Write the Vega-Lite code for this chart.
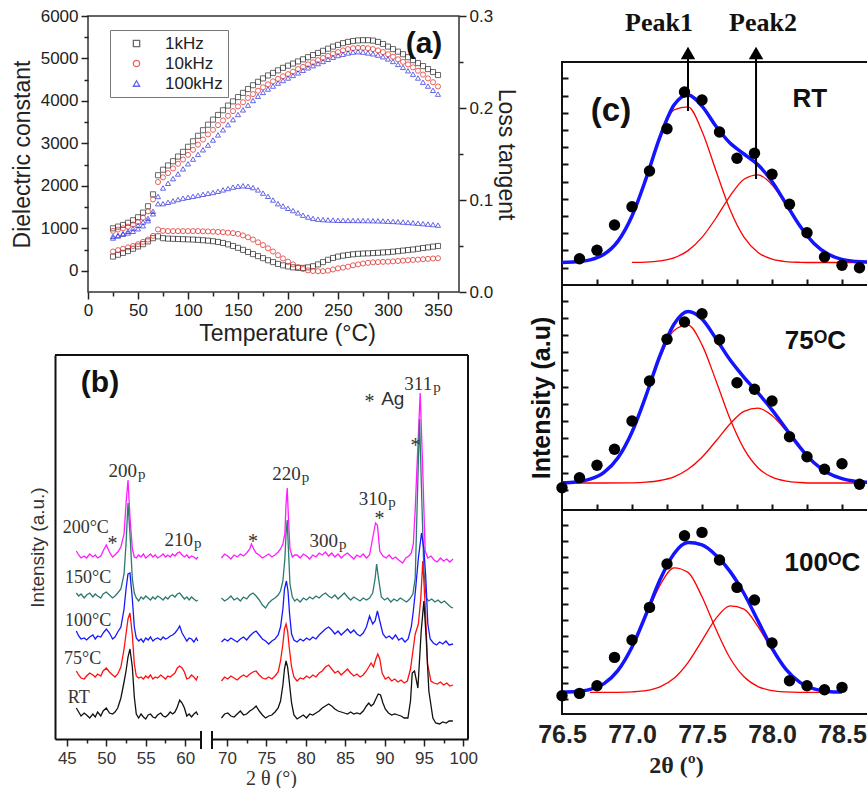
{
"padding": {"left": 10, "top": 6, "right": 0, "bottom": 0},
"autosize": {"type": "pad"},
"background": "white",
"config": {
  "font": "Liberation Sans",
  "view": {"stroke": "#222", "strokeWidth": 1.5},
  "axis": {"grid": false, "labelFont": "Liberation Sans", "titleFont": "Liberation Sans", "titleFontWeight": "normal", "domainColor": "#222", "tickColor": "#222", "labelColor": "#222", "titleColor": "#222", "labelOverlap": false, "labelFlush": false}
},
"datasets": {
"diel": [
{"T":25,"f":"1kHz","e":1000,"l":0.0385},{"T":30,"f":"1kHz","e":1040,"l":0.0405},{"T":35,"f":"1kHz","e":1080,"l":0.0425},{"T":40,"f":"1kHz","e":1130,"l":0.0445},{"T":45,"f":"1kHz","e":1190,"l":0.047},{"T":50,"f":"1kHz","e":1260,"l":0.0495},{"T":55,"f":"1kHz","e":1370,"l":0.052},{"T":60,"f":"1kHz","e":1520,"l":0.055},{"T":65,"f":"1kHz","e":1800,"l":0.0585},{"T":70,"f":"1kHz","e":2250,"l":0.0605},
{"T":75,"f":"1kHz","e":2380,"l":0.0585},{"T":80,"f":"1kHz","e":2480,"l":0.058},{"T":85,"f":"1kHz","e":2580,"l":0.0578},{"T":90,"f":"1kHz","e":2690,"l":0.0576},{"T":95,"f":"1kHz","e":2800,"l":0.0574},{"T":100,"f":"1kHz","e":2920,"l":0.0572},{"T":105,"f":"1kHz","e":3050,"l":0.057},{"T":110,"f":"1kHz","e":3180,"l":0.0567},{"T":115,"f":"1kHz","e":3310,"l":0.0563},{"T":120,"f":"1kHz","e":3440,"l":0.0558},
{"T":125,"f":"1kHz","e":3560,"l":0.0552},{"T":130,"f":"1kHz","e":3670,"l":0.0544},{"T":135,"f":"1kHz","e":3780,"l":0.0533},{"T":140,"f":"1kHz","e":3890,"l":0.0518},{"T":145,"f":"1kHz","e":3990,"l":0.05},{"T":150,"f":"1kHz","e":4090,"l":0.048},{"T":155,"f":"1kHz","e":4190,"l":0.0458},{"T":160,"f":"1kHz","e":4280,"l":0.0435},{"T":165,"f":"1kHz","e":4370,"l":0.0412},{"T":170,"f":"1kHz","e":4450,"l":0.039},
{"T":175,"f":"1kHz","e":4530,"l":0.0368},{"T":180,"f":"1kHz","e":4600,"l":0.0345},{"T":185,"f":"1kHz","e":4660,"l":0.0325},{"T":190,"f":"1kHz","e":4720,"l":0.0305},{"T":195,"f":"1kHz","e":4780,"l":0.029},{"T":200,"f":"1kHz","e":4830,"l":0.0278},{"T":205,"f":"1kHz","e":4880,"l":0.0268},{"T":210,"f":"1kHz","e":4930,"l":0.0262},{"T":215,"f":"1kHz","e":4980,"l":0.0262},{"T":220,"f":"1kHz","e":5030,"l":0.0268},
{"T":225,"f":"1kHz","e":5080,"l":0.028},{"T":230,"f":"1kHz","e":5130,"l":0.03},{"T":235,"f":"1kHz","e":5180,"l":0.0325},{"T":240,"f":"1kHz","e":5230,"l":0.035},{"T":245,"f":"1kHz","e":5280,"l":0.037},{"T":250,"f":"1kHz","e":5320,"l":0.0385},{"T":255,"f":"1kHz","e":5360,"l":0.0395},{"T":260,"f":"1kHz","e":5390,"l":0.0403},{"T":265,"f":"1kHz","e":5410,"l":0.041},{"T":270,"f":"1kHz","e":5425,"l":0.0415},
{"T":275,"f":"1kHz","e":5430,"l":0.0418},{"T":280,"f":"1kHz","e":5430,"l":0.042},{"T":285,"f":"1kHz","e":5420,"l":0.0423},{"T":290,"f":"1kHz","e":5390,"l":0.0426},{"T":295,"f":"1kHz","e":5340,"l":0.043},{"T":300,"f":"1kHz","e":5280,"l":0.0433},{"T":305,"f":"1kHz","e":5220,"l":0.0438},{"T":310,"f":"1kHz","e":5160,"l":0.0444},{"T":315,"f":"1kHz","e":5100,"l":0.045},{"T":320,"f":"1kHz","e":5030,"l":0.0456},
{"T":325,"f":"1kHz","e":4960,"l":0.0462},{"T":330,"f":"1kHz","e":4890,"l":0.047},{"T":335,"f":"1kHz","e":4820,"l":0.0478},{"T":340,"f":"1kHz","e":4750,"l":0.0485},{"T":345,"f":"1kHz","e":4680,"l":0.0493},{"T":350,"f":"1kHz","e":4610,"l":0.05},
{"T":25,"f":"10kHz","e":940,"l":0.044},{"T":30,"f":"10kHz","e":970,"l":0.0455},{"T":35,"f":"10kHz","e":1000,"l":0.047},{"T":40,"f":"10kHz","e":1040,"l":0.0485},{"T":45,"f":"10kHz","e":1090,"l":0.05},{"T":50,"f":"10kHz","e":1150,"l":0.052},{"T":55,"f":"10kHz","e":1250,"l":0.0545},{"T":60,"f":"10kHz","e":1400,"l":0.057},{"T":65,"f":"10kHz","e":1680,"l":0.061},{"T":70,"f":"10kHz","e":2090,"l":0.068},
{"T":75,"f":"10kHz","e":2200,"l":0.0665},{"T":80,"f":"10kHz","e":2300,"l":0.0662},{"T":85,"f":"10kHz","e":2410,"l":0.0662},{"T":90,"f":"10kHz","e":2520,"l":0.0662},{"T":95,"f":"10kHz","e":2620,"l":0.0662},{"T":100,"f":"10kHz","e":2730,"l":0.0662},{"T":105,"f":"10kHz","e":2850,"l":0.0662},{"T":110,"f":"10kHz","e":2970,"l":0.0662},{"T":115,"f":"10kHz","e":3090,"l":0.066},{"T":120,"f":"10kHz","e":3210,"l":0.0658},
{"T":125,"f":"10kHz","e":3320,"l":0.0656},{"T":130,"f":"10kHz","e":3430,"l":0.0653},{"T":135,"f":"10kHz","e":3540,"l":0.065},{"T":140,"f":"10kHz","e":3650,"l":0.0645},{"T":145,"f":"10kHz","e":3760,"l":0.064},{"T":150,"f":"10kHz","e":3870,"l":0.0632},{"T":155,"f":"10kHz","e":3970,"l":0.0615},{"T":160,"f":"10kHz","e":4070,"l":0.0595},{"T":165,"f":"10kHz","e":4160,"l":0.057},{"T":170,"f":"10kHz","e":4240,"l":0.054},
{"T":175,"f":"10kHz","e":4320,"l":0.051},{"T":180,"f":"10kHz","e":4390,"l":0.0475},{"T":185,"f":"10kHz","e":4460,"l":0.044},{"T":190,"f":"10kHz","e":4520,"l":0.04},{"T":195,"f":"10kHz","e":4580,"l":0.0365},{"T":200,"f":"10kHz","e":4630,"l":0.033},{"T":205,"f":"10kHz","e":4690,"l":0.03},{"T":210,"f":"10kHz","e":4750,"l":0.027},{"T":215,"f":"10kHz","e":4800,"l":0.025},{"T":220,"f":"10kHz","e":4860,"l":0.0235},
{"T":225,"f":"10kHz","e":4910,"l":0.0228},{"T":230,"f":"10kHz","e":4960,"l":0.0226},{"T":235,"f":"10kHz","e":5010,"l":0.0226},{"T":240,"f":"10kHz","e":5060,"l":0.0232},{"T":245,"f":"10kHz","e":5110,"l":0.0245},{"T":250,"f":"10kHz","e":5150,"l":0.0257},{"T":255,"f":"10kHz","e":5190,"l":0.0265},{"T":260,"f":"10kHz","e":5220,"l":0.0275},{"T":265,"f":"10kHz","e":5240,"l":0.029},{"T":270,"f":"10kHz","e":5250,"l":0.03},
{"T":275,"f":"10kHz","e":5250,"l":0.031},{"T":280,"f":"10kHz","e":5240,"l":0.0317},{"T":285,"f":"10kHz","e":5220,"l":0.0322},{"T":290,"f":"10kHz","e":5190,"l":0.0325},{"T":295,"f":"10kHz","e":5150,"l":0.0328},{"T":300,"f":"10kHz","e":5100,"l":0.033},{"T":305,"f":"10kHz","e":5040,"l":0.0333},{"T":310,"f":"10kHz","e":4980,"l":0.0337},{"T":315,"f":"10kHz","e":4920,"l":0.0341},{"T":320,"f":"10kHz","e":4860,"l":0.0345},
{"T":325,"f":"10kHz","e":4790,"l":0.0349},{"T":330,"f":"10kHz","e":4710,"l":0.0352},{"T":335,"f":"10kHz","e":4620,"l":0.0356},{"T":340,"f":"10kHz","e":4530,"l":0.036},{"T":345,"f":"10kHz","e":4440,"l":0.0364},{"T":350,"f":"10kHz","e":4340,"l":0.0367},
{"T":25,"f":"100kHz","e":810,"l":0.0587},{"T":30,"f":"100kHz","e":830,"l":0.061},{"T":35,"f":"100kHz","e":860,"l":0.0635},{"T":40,"f":"100kHz","e":890,"l":0.066},{"T":45,"f":"100kHz","e":930,"l":0.069},{"T":50,"f":"100kHz","e":990,"l":0.0725},{"T":55,"f":"100kHz","e":1060,"l":0.076},{"T":60,"f":"100kHz","e":1180,"l":0.08},{"T":65,"f":"100kHz","e":1400,"l":0.085},{"T":70,"f":"100kHz","e":1750,"l":0.096},
{"T":75,"f":"100kHz","e":1950,"l":0.096},{"T":80,"f":"100kHz","e":2060,"l":0.0975},{"T":85,"f":"100kHz","e":2170,"l":0.099},{"T":90,"f":"100kHz","e":2280,"l":0.1005},{"T":95,"f":"100kHz","e":2400,"l":0.102},{"T":100,"f":"100kHz","e":2520,"l":0.103},{"T":105,"f":"100kHz","e":2630,"l":0.104},{"T":110,"f":"100kHz","e":2740,"l":0.105},{"T":115,"f":"100kHz","e":2850,"l":0.1062},{"T":120,"f":"100kHz","e":2960,"l":0.1072},
{"T":125,"f":"100kHz","e":3080,"l":0.1082},{"T":130,"f":"100kHz","e":3200,"l":0.1095},{"T":135,"f":"100kHz","e":3320,"l":0.111},{"T":140,"f":"100kHz","e":3440,"l":0.1125},{"T":145,"f":"100kHz","e":3560,"l":0.114},{"T":150,"f":"100kHz","e":3680,"l":0.115},{"T":155,"f":"100kHz","e":3790,"l":0.1155},{"T":160,"f":"100kHz","e":3900,"l":0.115},{"T":165,"f":"100kHz","e":4010,"l":0.1135},{"T":170,"f":"100kHz","e":4110,"l":0.111},
{"T":175,"f":"100kHz","e":4200,"l":0.1075},{"T":180,"f":"100kHz","e":4280,"l":0.104},{"T":185,"f":"100kHz","e":4350,"l":0.1},{"T":190,"f":"100kHz","e":4420,"l":0.096},{"T":195,"f":"100kHz","e":4480,"l":0.0935},{"T":200,"f":"100kHz","e":4540,"l":0.091},{"T":205,"f":"100kHz","e":4600,"l":0.0885},{"T":210,"f":"100kHz","e":4660,"l":0.086},{"T":215,"f":"100kHz","e":4720,"l":0.0835},{"T":220,"f":"100kHz","e":4780,"l":0.0815},
{"T":225,"f":"100kHz","e":4830,"l":0.08},{"T":230,"f":"100kHz","e":4880,"l":0.0792},{"T":235,"f":"100kHz","e":4930,"l":0.0787},{"T":240,"f":"100kHz","e":4980,"l":0.0784},{"T":245,"f":"100kHz","e":5030,"l":0.0782},{"T":250,"f":"100kHz","e":5070,"l":0.078},{"T":255,"f":"100kHz","e":5100,"l":0.0779},{"T":260,"f":"100kHz","e":5130,"l":0.0778},{"T":265,"f":"100kHz","e":5150,"l":0.0778},{"T":270,"f":"100kHz","e":5160,"l":0.0777},
{"T":275,"f":"100kHz","e":5150,"l":0.0777},{"T":280,"f":"100kHz","e":5130,"l":0.0776},{"T":285,"f":"100kHz","e":5110,"l":0.0775},{"T":290,"f":"100kHz","e":5080,"l":0.0774},{"T":295,"f":"100kHz","e":5040,"l":0.0772},{"T":300,"f":"100kHz","e":4990,"l":0.077},{"T":305,"f":"100kHz","e":4930,"l":0.0767},{"T":310,"f":"100kHz","e":4860,"l":0.0764},{"T":315,"f":"100kHz","e":4790,"l":0.076},{"T":320,"f":"100kHz","e":4710,"l":0.0756},
{"T":325,"f":"100kHz","e":4630,"l":0.0752},{"T":330,"f":"100kHz","e":4540,"l":0.0748},{"T":335,"f":"100kHz","e":4440,"l":0.0743},{"T":340,"f":"100kHz","e":4350,"l":0.0738},{"T":345,"f":"100kHz","e":4250,"l":0.0733},{"T":350,"f":"100kHz","e":4160,"l":0.0727}
],
"xrdL": [
{"s":"RT","x":46.2,"y":31},{"s":"RT","x":46.5,"y":27},{"s":"RT","x":46.8,"y":23},{"s":"RT","x":47.2,"y":26},{"s":"RT","x":47.5,"y":24},{"s":"RT","x":47.9,"y":21},{"s":"RT","x":48.3,"y":25},{"s":"RT","x":48.6,"y":22},{"s":"RT","x":48.9,"y":27},{"s":"RT","x":49.3,"y":23},
{"s":"RT","x":49.6,"y":28},{"s":"RT","x":50.0,"y":31},{"s":"RT","x":50.4,"y":26},{"s":"RT","x":50.8,"y":25},{"s":"RT","x":51.1,"y":27},{"s":"RT","x":51.45,"y":31},{"s":"RT","x":51.85,"y":41},{"s":"RT","x":52.25,"y":57},{"s":"RT","x":52.5,"y":68},{"s":"RT","x":52.75,"y":82},
{"s":"RT","x":53.0,"y":90},{"s":"RT","x":53.3,"y":72},{"s":"RT","x":53.55,"y":42},{"s":"RT","x":53.8,"y":25},{"s":"RT","x":54.1,"y":21},{"s":"RT","x":54.4,"y":25},{"s":"RT","x":54.7,"y":22},{"s":"RT","x":55.0,"y":20},{"s":"RT","x":55.3,"y":24},{"s":"RT","x":55.6,"y":25},
{"s":"RT","x":55.9,"y":22},{"s":"RT","x":56.2,"y":21},{"s":"RT","x":56.5,"y":24},{"s":"RT","x":56.9,"y":26},{"s":"RT","x":57.2,"y":23},{"s":"RT","x":57.5,"y":22},{"s":"RT","x":57.8,"y":24},{"s":"RT","x":58.1,"y":27},{"s":"RT","x":58.4,"y":25},{"s":"RT","x":58.7,"y":27},
{"s":"RT","x":59.0,"y":32},{"s":"RT","x":59.3,"y":39},{"s":"RT","x":59.6,"y":36},{"s":"RT","x":59.9,"y":31},{"s":"RT","x":60.2,"y":23},{"s":"RT","x":60.5,"y":25},{"s":"RT","x":60.8,"y":22},{"s":"RT","x":61.1,"y":25},{"s":"RT","x":61.4,"y":27},{"s":"RT","x":61.6,"y":24},
{"s":"75","x":46.2,"y":68},{"s":"75","x":46.5,"y":64},{"s":"75","x":46.8,"y":61},{"s":"75","x":47.2,"y":60},{"s":"75","x":47.5,"y":63},{"s":"75","x":47.9,"y":66},{"s":"75","x":48.3,"y":64},{"s":"75","x":48.6,"y":62},{"s":"75","x":48.9,"y":65},{"s":"75","x":49.3,"y":63},
{"s":"75","x":49.6,"y":68},{"s":"75","x":50.0,"y":71},{"s":"75","x":50.4,"y":67},{"s":"75","x":50.8,"y":64},{"s":"75","x":51.1,"y":62},{"s":"75","x":51.45,"y":65},{"s":"75","x":51.85,"y":72},{"s":"75","x":52.25,"y":90},{"s":"75","x":52.5,"y":105},{"s":"75","x":52.75,"y":120},
{"s":"75","x":53.0,"y":126},{"s":"75","x":53.3,"y":104},{"s":"75","x":53.55,"y":75},{"s":"75","x":53.8,"y":63},{"s":"75","x":54.1,"y":61},{"s":"75","x":54.4,"y":62},{"s":"75","x":54.7,"y":60},{"s":"75","x":55.0,"y":63},{"s":"75","x":55.3,"y":61},{"s":"75","x":55.6,"y":64},
{"s":"75","x":55.9,"y":60},{"s":"75","x":56.2,"y":62},{"s":"75","x":56.5,"y":61},{"s":"75","x":56.9,"y":64},{"s":"75","x":57.2,"y":62},{"s":"75","x":57.5,"y":60},{"s":"75","x":57.8,"y":63},{"s":"75","x":58.1,"y":62},{"s":"75","x":58.4,"y":64},{"s":"75","x":58.7,"y":66},
{"s":"75","x":59.0,"y":71},{"s":"75","x":59.3,"y":73},{"s":"75","x":59.6,"y":71},{"s":"75","x":59.9,"y":67},{"s":"75","x":60.2,"y":60},{"s":"75","x":60.5,"y":61},{"s":"75","x":60.8,"y":64},{"s":"75","x":61.1,"y":62},{"s":"75","x":61.4,"y":59},{"s":"75","x":61.6,"y":63},
{"s":"100","x":46.2,"y":108},{"s":"100","x":46.5,"y":103},{"s":"100","x":46.8,"y":100},{"s":"100","x":47.2,"y":101},{"s":"100","x":47.5,"y":99},{"s":"100","x":47.9,"y":102},{"s":"100","x":48.3,"y":104},{"s":"100","x":48.6,"y":100},{"s":"100","x":48.9,"y":103},{"s":"100","x":49.3,"y":102},
{"s":"100","x":49.6,"y":106},{"s":"100","x":50.0,"y":110},{"s":"100","x":50.4,"y":106},{"s":"100","x":50.8,"y":100},{"s":"100","x":51.1,"y":102},{"s":"100","x":51.45,"y":107},{"s":"100","x":51.85,"y":112},{"s":"100","x":52.25,"y":130},{"s":"100","x":52.5,"y":150},{"s":"100","x":52.75,"y":165},
{"s":"100","x":53.0,"y":166},{"s":"100","x":53.3,"y":140},{"s":"100","x":53.55,"y":112},{"s":"100","x":53.8,"y":101},{"s":"100","x":54.1,"y":98},{"s":"100","x":54.4,"y":100},{"s":"100","x":54.7,"y":97},{"s":"100","x":55.0,"y":101},{"s":"100","x":55.3,"y":99},{"s":"100","x":55.6,"y":102},
{"s":"100","x":55.9,"y":98},{"s":"100","x":56.2,"y":100},{"s":"100","x":56.5,"y":101},{"s":"100","x":56.9,"y":99},{"s":"100","x":57.2,"y":102},{"s":"100","x":57.5,"y":100},{"s":"100","x":57.8,"y":101},{"s":"100","x":58.1,"y":103},{"s":"100","x":58.4,"y":104},{"s":"100","x":58.7,"y":106},
{"s":"100","x":59.0,"y":109},{"s":"100","x":59.3,"y":113},{"s":"100","x":59.6,"y":106},{"s":"100","x":59.9,"y":102},{"s":"100","x":60.2,"y":98},{"s":"100","x":60.5,"y":101},{"s":"100","x":60.8,"y":100},{"s":"100","x":61.1,"y":97},{"s":"100","x":61.4,"y":101},{"s":"100","x":61.6,"y":98},
{"s":"150","x":46.2,"y":146},{"s":"150","x":46.5,"y":143},{"s":"150","x":46.8,"y":145},{"s":"150","x":47.2,"y":141},{"s":"150","x":47.5,"y":144},{"s":"150","x":47.9,"y":146},{"s":"150","x":48.3,"y":142},{"s":"150","x":48.6,"y":145},{"s":"150","x":48.9,"y":143},{"s":"150","x":49.3,"y":141},
{"s":"150","x":49.6,"y":145},{"s":"150","x":50.0,"y":147},{"s":"150","x":50.4,"y":144},{"s":"150","x":50.8,"y":141},{"s":"150","x":51.1,"y":143},{"s":"150","x":51.45,"y":146},{"s":"150","x":51.85,"y":150},{"s":"150","x":52.25,"y":165},{"s":"150","x":52.5,"y":195},{"s":"150","x":52.75,"y":236},
{"s":"150","x":53.0,"y":205},{"s":"150","x":53.3,"y":160},{"s":"150","x":53.55,"y":146},{"s":"150","x":53.8,"y":141},{"s":"150","x":54.1,"y":138},{"s":"150","x":54.4,"y":142},{"s":"150","x":54.7,"y":140},{"s":"150","x":55.0,"y":143},{"s":"150","x":55.3,"y":141},{"s":"150","x":55.6,"y":139},
{"s":"150","x":55.9,"y":142},{"s":"150","x":56.2,"y":140},{"s":"150","x":56.5,"y":143},{"s":"150","x":56.9,"y":141},{"s":"150","x":57.2,"y":139},{"s":"150","x":57.5,"y":142},{"s":"150","x":57.8,"y":140},{"s":"150","x":58.1,"y":143},{"s":"150","x":58.4,"y":144},{"s":"150","x":58.7,"y":142},
{"s":"150","x":59.0,"y":145},{"s":"150","x":59.3,"y":146},{"s":"150","x":59.6,"y":143},{"s":"150","x":59.9,"y":140},{"s":"150","x":60.2,"y":142},{"s":"150","x":60.5,"y":139},{"s":"150","x":60.8,"y":142},{"s":"150","x":61.1,"y":140},{"s":"150","x":61.4,"y":138},{"s":"150","x":61.6,"y":139},
{"s":"200","x":46.2,"y":188},{"s":"200","x":46.5,"y":184},{"s":"200","x":46.8,"y":181},{"s":"200","x":47.2,"y":183},{"s":"200","x":47.5,"y":181},{"s":"200","x":47.9,"y":185},{"s":"200","x":48.3,"y":182},{"s":"200","x":48.6,"y":184},{"s":"200","x":48.9,"y":181},{"s":"200","x":49.3,"y":183},
{"s":"200","x":49.6,"y":188},{"s":"200","x":50.0,"y":194},{"s":"200","x":50.4,"y":187},{"s":"200","x":50.8,"y":182},{"s":"200","x":51.1,"y":184},{"s":"200","x":51.45,"y":187},{"s":"200","x":51.85,"y":192},{"s":"200","x":52.25,"y":205},{"s":"200","x":52.5,"y":235},{"s":"200","x":52.75,"y":259},
{"s":"200","x":53.0,"y":222},{"s":"200","x":53.3,"y":190},{"s":"200","x":53.55,"y":182},{"s":"200","x":53.8,"y":181},{"s":"200","x":54.1,"y":184},{"s":"200","x":54.4,"y":182},{"s":"200","x":54.7,"y":185},{"s":"200","x":55.0,"y":181},{"s":"200","x":55.3,"y":183},{"s":"200","x":55.6,"y":185},
{"s":"200","x":55.9,"y":182},{"s":"200","x":56.2,"y":184},{"s":"200","x":56.5,"y":181},{"s":"200","x":56.9,"y":183},{"s":"200","x":57.2,"y":185},{"s":"200","x":57.5,"y":182},{"s":"200","x":57.8,"y":184},{"s":"200","x":58.1,"y":182},{"s":"200","x":58.4,"y":185},{"s":"200","x":58.7,"y":183},
{"s":"200","x":59.0,"y":186},{"s":"200","x":59.3,"y":187},{"s":"200","x":59.6,"y":184},{"s":"200","x":59.9,"y":182},{"s":"200","x":60.2,"y":184},{"s":"200","x":60.5,"y":181},{"s":"200","x":60.8,"y":183},{"s":"200","x":61.1,"y":182},{"s":"200","x":61.4,"y":180},{"s":"200","x":61.6,"y":182}
],
"xrdR": [
{"s":"RT","x":69.3,"y":21},{"s":"RT","x":69.7,"y":25},{"s":"RT","x":70.1,"y":26},{"s":"RT","x":70.5,"y":23},{"s":"RT","x":70.9,"y":22},{"s":"RT","x":71.3,"y":25},{"s":"RT","x":71.7,"y":28},{"s":"RT","x":72.1,"y":24},{"s":"RT","x":72.5,"y":25},{"s":"RT","x":72.9,"y":28},
{"s":"RT","x":73.3,"y":30},{"s":"RT","x":73.7,"y":33},{"s":"RT","x":74.1,"y":28},{"s":"RT","x":74.5,"y":24},{"s":"RT","x":74.9,"y":21},{"s":"RT","x":75.3,"y":23},{"s":"RT","x":75.7,"y":24},{"s":"RT","x":76.1,"y":27},{"s":"RT","x":76.5,"y":31},{"s":"RT","x":76.8,"y":38},
{"s":"RT","x":77.1,"y":54},{"s":"RT","x":77.3,"y":70},{"s":"RT","x":77.5,"y":78},{"s":"RT","x":77.7,"y":72},{"s":"RT","x":77.9,"y":58},{"s":"RT","x":78.2,"y":36},{"s":"RT","x":78.5,"y":24},{"s":"RT","x":78.9,"y":20},{"s":"RT","x":79.3,"y":22},{"s":"RT","x":79.7,"y":24},
{"s":"RT","x":80.1,"y":21},{"s":"RT","x":80.5,"y":25},{"s":"RT","x":80.9,"y":24},{"s":"RT","x":81.3,"y":26},{"s":"RT","x":81.7,"y":28},{"s":"RT","x":82.1,"y":31},{"s":"RT","x":82.5,"y":33},{"s":"RT","x":82.9,"y":35},{"s":"RT","x":83.3,"y":33},{"s":"RT","x":83.7,"y":30},
{"s":"RT","x":84.1,"y":28},{"s":"RT","x":84.5,"y":27},{"s":"RT","x":84.9,"y":26},{"s":"RT","x":85.3,"y":25},{"s":"RT","x":85.7,"y":27},{"s":"RT","x":86.1,"y":25},{"s":"RT","x":86.5,"y":26},{"s":"RT","x":86.9,"y":25},{"s":"RT","x":87.3,"y":28},{"s":"RT","x":87.7,"y":33},
{"s":"RT","x":88.0,"y":36},{"s":"RT","x":88.3,"y":33},{"s":"RT","x":88.6,"y":35},{"s":"RT","x":88.9,"y":40},{"s":"RT","x":89.2,"y":45},{"s":"RT","x":89.5,"y":44},{"s":"RT","x":89.8,"y":36},{"s":"RT","x":90.1,"y":30},{"s":"RT","x":90.5,"y":26},{"s":"RT","x":90.9,"y":24},
{"s":"RT","x":91.3,"y":25},{"s":"RT","x":91.7,"y":24},{"s":"RT","x":92.1,"y":23},{"s":"RT","x":92.5,"y":21},{"s":"RT","x":92.97,"y":21},{"s":"RT","x":93.3,"y":38},{"s":"RT","x":93.52,"y":66},{"s":"RT","x":93.81,"y":68},{"s":"RT","x":94.24,"y":51},{"s":"RT","x":94.66,"y":108},
{"s":"RT","x":95.0,"y":138},{"s":"RT","x":95.29,"y":101},{"s":"RT","x":95.63,"y":48},{"s":"RT","x":96.14,"y":21},{"s":"RT","x":96.5,"y":16},{"s":"RT","x":96.98,"y":15},{"s":"RT","x":97.4,"y":17},{"s":"RT","x":97.83,"y":16},{"s":"RT","x":98.2,"y":18},{"s":"RT","x":98.68,"y":18},
{"s":"75","x":69.3,"y":58},{"s":"75","x":69.7,"y":62},{"s":"75","x":70.1,"y":60},{"s":"75","x":70.5,"y":63},{"s":"75","x":70.9,"y":61},{"s":"75","x":71.3,"y":59},{"s":"75","x":71.7,"y":62},{"s":"75","x":72.1,"y":64},{"s":"75","x":72.5,"y":62},{"s":"75","x":72.9,"y":65},
{"s":"75","x":73.3,"y":67},{"s":"75","x":73.7,"y":68},{"s":"75","x":74.1,"y":64},{"s":"75","x":74.5,"y":61},{"s":"75","x":74.9,"y":60},{"s":"75","x":75.3,"y":62},{"s":"75","x":75.7,"y":60},{"s":"75","x":76.1,"y":63},{"s":"75","x":76.5,"y":67},{"s":"75","x":76.8,"y":78},
{"s":"75","x":77.1,"y":95},{"s":"75","x":77.3,"y":110},{"s":"75","x":77.5,"y":115},{"s":"75","x":77.7,"y":108},{"s":"75","x":77.9,"y":92},{"s":"75","x":78.2,"y":72},{"s":"75","x":78.5,"y":62},{"s":"75","x":78.9,"y":58},{"s":"75","x":79.3,"y":61},{"s":"75","x":79.7,"y":60},
{"s":"75","x":80.1,"y":63},{"s":"75","x":80.5,"y":61},{"s":"75","x":80.9,"y":64},{"s":"75","x":81.3,"y":62},{"s":"75","x":81.7,"y":66},{"s":"75","x":82.1,"y":68},{"s":"75","x":82.5,"y":72},{"s":"75","x":82.9,"y":74},{"s":"75","x":83.3,"y":70},{"s":"75","x":83.7,"y":66},
{"s":"75","x":84.1,"y":68},{"s":"75","x":84.5,"y":64},{"s":"75","x":84.9,"y":67},{"s":"75","x":85.3,"y":70},{"s":"75","x":85.7,"y":66},{"s":"75","x":86.1,"y":63},{"s":"75","x":86.5,"y":65},{"s":"75","x":86.9,"y":62},{"s":"75","x":87.3,"y":64},{"s":"75","x":87.7,"y":68},
{"s":"75","x":88.0,"y":72},{"s":"75","x":88.3,"y":76},{"s":"75","x":88.6,"y":72},{"s":"75","x":88.9,"y":80},{"s":"75","x":89.15,"y":85},{"s":"75","x":89.4,"y":80},{"s":"75","x":89.7,"y":66},{"s":"75","x":90.1,"y":60},{"s":"75","x":90.5,"y":62},{"s":"75","x":90.9,"y":58},
{"s":"75","x":91.3,"y":60},{"s":"75","x":91.7,"y":57},{"s":"75","x":92.1,"y":59},{"s":"75","x":92.5,"y":56},{"s":"75","x":92.9,"y":58},{"s":"75","x":93.3,"y":70},{"s":"75","x":93.66,"y":91},{"s":"75","x":93.9,"y":105},{"s":"75","x":94.3,"y":115},{"s":"75","x":94.6,"y":140},
{"s":"75","x":94.86,"y":178},{"s":"75","x":95.2,"y":128},{"s":"75","x":95.46,"y":75},{"s":"75","x":95.89,"y":58},{"s":"75","x":96.3,"y":56},{"s":"75","x":96.7,"y":55},{"s":"75","x":97.1,"y":57},{"s":"75","x":97.5,"y":54},{"s":"75","x":97.9,"y":56},{"s":"75","x":98.3,"y":53},{"s":"75","x":98.7,"y":54},
{"s":"100","x":69.3,"y":97},{"s":"100","x":69.7,"y":100},{"s":"100","x":70.1,"y":98},{"s":"100","x":70.5,"y":101},{"s":"100","x":70.9,"y":99},{"s":"100","x":71.3,"y":97},{"s":"100","x":71.7,"y":100},{"s":"100","x":72.1,"y":102},{"s":"100","x":72.5,"y":99},{"s":"100","x":72.9,"y":103},
{"s":"100","x":73.3,"y":106},{"s":"100","x":73.7,"y":108},{"s":"100","x":74.1,"y":104},{"s":"100","x":74.5,"y":100},{"s":"100","x":74.9,"y":98},{"s":"100","x":75.3,"y":95},{"s":"100","x":75.7,"y":98},{"s":"100","x":76.1,"y":100},{"s":"100","x":76.5,"y":104},{"s":"100","x":76.8,"y":112},
{"s":"100","x":77.1,"y":130},{"s":"100","x":77.3,"y":150},{"s":"100","x":77.55,"y":158},{"s":"100","x":77.75,"y":148},{"s":"100","x":77.95,"y":125},{"s":"100","x":78.2,"y":105},{"s":"100","x":78.5,"y":99},{"s":"100","x":78.9,"y":97},{"s":"100","x":79.3,"y":100},{"s":"100","x":79.7,"y":98},
{"s":"100","x":80.1,"y":101},{"s":"100","x":80.5,"y":99},{"s":"100","x":80.9,"y":102},{"s":"100","x":81.3,"y":100},{"s":"100","x":81.7,"y":104},{"s":"100","x":82.1,"y":107},{"s":"100","x":82.5,"y":110},{"s":"100","x":82.9,"y":112},{"s":"100","x":83.3,"y":109},{"s":"100","x":83.7,"y":105},
{"s":"100","x":84.1,"y":108},{"s":"100","x":84.5,"y":104},{"s":"100","x":84.9,"y":107},{"s":"100","x":85.3,"y":110},{"s":"100","x":85.7,"y":106},{"s":"100","x":86.1,"y":109},{"s":"100","x":86.5,"y":105},{"s":"100","x":86.9,"y":103},{"s":"100","x":87.3,"y":106},{"s":"100","x":87.7,"y":112},
{"s":"100","x":88.1,"y":123},{"s":"100","x":88.5,"y":115},{"s":"100","x":88.8,"y":118},{"s":"100","x":89.1,"y":128},{"s":"100","x":89.4,"y":118},{"s":"100","x":89.8,"y":105},{"s":"100","x":90.2,"y":101},{"s":"100","x":90.6,"y":103},{"s":"100","x":91.0,"y":100},{"s":"100","x":91.4,"y":104},
{"s":"100","x":91.8,"y":99},{"s":"100","x":92.2,"y":101},{"s":"100","x":92.6,"y":97},{"s":"100","x":93.0,"y":100},{"s":"100","x":93.4,"y":112},{"s":"100","x":93.66,"y":128},{"s":"100","x":93.95,"y":150},{"s":"100","x":94.3,"y":181},{"s":"100","x":94.7,"y":206},{"s":"100","x":95.0,"y":190},
{"s":"100","x":95.25,"y":160},{"s":"100","x":95.5,"y":115},{"s":"100","x":95.8,"y":100},{"s":"100","x":96.2,"y":96},{"s":"100","x":96.6,"y":94},{"s":"100","x":97.0,"y":97},{"s":"100","x":97.4,"y":95},{"s":"100","x":97.8,"y":98},{"s":"100","x":98.2,"y":94},{"s":"100","x":98.7,"y":95},
{"s":"150","x":69.3,"y":141},{"s":"150","x":69.7,"y":138},{"s":"150","x":70.1,"y":140},{"s":"150","x":70.5,"y":143},{"s":"150","x":70.9,"y":139},{"s":"150","x":71.3,"y":141},{"s":"150","x":71.7,"y":138},{"s":"150","x":72.1,"y":142},{"s":"150","x":72.5,"y":140},{"s":"150","x":72.9,"y":144},
{"s":"150","x":73.3,"y":146},{"s":"150","x":73.7,"y":143},{"s":"150","x":74.1,"y":139},{"s":"150","x":74.5,"y":134},{"s":"150","x":74.9,"y":131},{"s":"150","x":75.3,"y":136},{"s":"150","x":75.7,"y":139},{"s":"150","x":76.1,"y":141},{"s":"150","x":76.5,"y":144},{"s":"150","x":76.8,"y":148},
{"s":"150","x":77.1,"y":158},{"s":"150","x":77.35,"y":180},{"s":"150","x":77.5,"y":205},{"s":"150","x":77.65,"y":219},{"s":"150","x":77.8,"y":190},{"s":"150","x":78.0,"y":155},{"s":"150","x":78.3,"y":142},{"s":"150","x":78.6,"y":138},{"s":"150","x":78.9,"y":140},{"s":"150","x":79.3,"y":137},
{"s":"150","x":79.7,"y":141},{"s":"150","x":80.1,"y":139},{"s":"150","x":80.5,"y":142},{"s":"150","x":80.9,"y":140},{"s":"150","x":81.3,"y":143},{"s":"150","x":81.7,"y":141},{"s":"150","x":82.1,"y":144},{"s":"150","x":82.5,"y":146},{"s":"150","x":82.9,"y":143},{"s":"150","x":83.3,"y":141},
{"s":"150","x":83.7,"y":144},{"s":"150","x":84.1,"y":140},{"s":"150","x":84.5,"y":143},{"s":"150","x":84.9,"y":146},{"s":"150","x":85.3,"y":142},{"s":"150","x":85.7,"y":139},{"s":"150","x":86.1,"y":142},{"s":"150","x":86.5,"y":140},{"s":"150","x":86.9,"y":138},{"s":"150","x":87.3,"y":141},
{"s":"150","x":87.7,"y":139},{"s":"150","x":88.1,"y":141},{"s":"150","x":88.5,"y":146},{"s":"150","x":88.8,"y":160},{"s":"150","x":89.0,"y":175},{"s":"150","x":89.25,"y":160},{"s":"150","x":89.6,"y":142},{"s":"150","x":90.0,"y":139},{"s":"150","x":90.4,"y":141},{"s":"150","x":90.8,"y":137},
{"s":"150","x":91.2,"y":140},{"s":"150","x":91.6,"y":138},{"s":"150","x":92.0,"y":141},{"s":"150","x":92.4,"y":139},{"s":"150","x":92.8,"y":137},{"s":"150","x":93.2,"y":140},{"s":"150","x":93.6,"y":145},{"s":"150","x":93.9,"y":161},{"s":"150","x":94.15,"y":235},{"s":"150","x":94.45,"y":320},
{"s":"150","x":94.75,"y":235},{"s":"150","x":95.0,"y":168},{"s":"150","x":95.3,"y":141},{"s":"150","x":95.6,"y":138},{"s":"150","x":96.0,"y":140},{"s":"150","x":96.4,"y":137},{"s":"150","x":96.8,"y":139},{"s":"150","x":97.2,"y":136},{"s":"150","x":97.6,"y":138},{"s":"150","x":98.0,"y":135},{"s":"150","x":98.4,"y":132},{"s":"150","x":98.7,"y":131},
{"s":"200","x":69.3,"y":181},{"s":"200","x":69.7,"y":185},{"s":"200","x":70.1,"y":183},{"s":"200","x":70.5,"y":180},{"s":"200","x":70.9,"y":184},{"s":"200","x":71.3,"y":182},{"s":"200","x":71.7,"y":185},{"s":"200","x":72.1,"y":183},{"s":"200","x":72.5,"y":186},{"s":"200","x":72.9,"y":190},
{"s":"200","x":73.1,"y":195},{"s":"200","x":73.4,"y":190},{"s":"200","x":73.7,"y":186},{"s":"200","x":74.1,"y":184},{"s":"200","x":74.5,"y":181},{"s":"200","x":74.9,"y":183},{"s":"200","x":75.3,"y":185},{"s":"200","x":75.7,"y":182},{"s":"200","x":76.1,"y":184},{"s":"200","x":76.5,"y":187},
{"s":"200","x":76.8,"y":190},{"s":"200","x":77.1,"y":195},{"s":"200","x":77.35,"y":205},{"s":"200","x":77.5,"y":235},{"s":"200","x":77.65,"y":251},{"s":"200","x":77.8,"y":222},{"s":"200","x":78.0,"y":190},{"s":"200","x":78.3,"y":182},{"s":"200","x":78.6,"y":184},{"s":"200","x":78.9,"y":184},
{"s":"200","x":79.3,"y":181},{"s":"200","x":79.7,"y":185},{"s":"200","x":80.1,"y":183},{"s":"200","x":80.5,"y":180},{"s":"200","x":80.9,"y":184},{"s":"200","x":81.3,"y":182},{"s":"200","x":81.7,"y":186},{"s":"200","x":82.1,"y":184},{"s":"200","x":82.5,"y":187},{"s":"200","x":82.9,"y":183},
{"s":"200","x":83.3,"y":186},{"s":"200","x":83.7,"y":182},{"s":"200","x":84.1,"y":185},{"s":"200","x":84.5,"y":181},{"s":"200","x":84.9,"y":184},{"s":"200","x":85.3,"y":186},{"s":"200","x":85.7,"y":183},{"s":"200","x":86.1,"y":180},{"s":"200","x":86.5,"y":184},{"s":"200","x":86.9,"y":182},
{"s":"200","x":87.3,"y":185},{"s":"200","x":87.7,"y":181},{"s":"200","x":88.1,"y":184},{"s":"200","x":88.5,"y":201},{"s":"200","x":88.86,"y":216},{"s":"200","x":89.1,"y":214},{"s":"200","x":89.4,"y":188},{"s":"200","x":89.8,"y":183},{"s":"200","x":90.2,"y":181},{"s":"200","x":90.6,"y":184},
{"s":"200","x":91.0,"y":180},{"s":"200","x":91.4,"y":182},{"s":"200","x":91.8,"y":179},{"s":"200","x":92.3,"y":176},{"s":"200","x":92.7,"y":181},{"s":"200","x":93.1,"y":183},{"s":"200","x":93.4,"y":186},{"s":"200","x":93.66,"y":195},{"s":"200","x":93.9,"y":230},{"s":"200","x":94.1,"y":268},
{"s":"200","x":94.53,"y":346},{"s":"200","x":94.86,"y":268},{"s":"200","x":95.0,"y":230},{"s":"200","x":95.16,"y":188},{"s":"200","x":95.5,"y":181},{"s":"200","x":95.9,"y":183},{"s":"200","x":96.3,"y":179},{"s":"200","x":96.7,"y":177},{"s":"200","x":97.1,"y":181},{"s":"200","x":97.5,"y":178},{"s":"200","x":97.9,"y":180},{"s":"200","x":98.3,"y":177},{"s":"200","x":98.7,"y":180}
],
"fit": [
{"p":"c1","k":"b","x":76.5,"y":21.6},{"p":"c1","k":"b","x":76.6,"y":22.2},{"p":"c1","k":"b","x":76.7,"y":24.1},{"p":"c1","k":"b","x":76.8,"y":29.7},{"p":"c1","k":"b","x":76.9,"y":42.9},{"p":"c1","k":"b","x":77.0,"y":68.0},{"p":"c1","k":"b","x":77.1,"y":105.3},{"p":"c1","k":"b","x":77.2,"y":147.1},{"p":"c1","k":"b","x":77.3,"y":178.9},{"p":"c1","k":"b","x":77.4,"y":189.0},{"p":"c1","k":"b","x":77.5,"y":177.9},{"p":"c1","k":"b","x":77.6,"y":157.7},{"p":"c1","k":"b","x":77.7,"y":140.9},{"p":"c1","k":"b","x":77.8,"y":130.0},{"p":"c1","k":"b","x":77.9,"y":119.2},{"p":"c1","k":"b","x":78.0,"y":102.5},{"p":"c1","k":"b","x":78.1,"y":80.2},{"p":"c1","k":"b","x":78.2,"y":57.9},{"p":"c1","k":"b","x":78.3,"y":40.5},{"p":"c1","k":"b","x":78.4,"y":29.9},{"p":"c1","k":"b","x":78.5,"y":24.6},{"p":"c1","k":"b","x":78.6,"y":22.5},{"p":"c1","k":"b","x":78.7,"y":21.8},
{"p":"c1","k":"r1","x":76.5,"y":21.6},{"p":"c1","k":"r1","x":76.6,"y":22.2},{"p":"c1","k":"r1","x":76.7,"y":24.1},{"p":"c1","k":"r1","x":76.8,"y":29.7},{"p":"c1","k":"r1","x":76.9,"y":42.9},{"p":"c1","k":"r1","x":77.0,"y":67.9},{"p":"c1","k":"r1","x":77.1,"y":104.9},{"p":"c1","k":"r1","x":77.2,"y":145.5},{"p":"c1","k":"r1","x":77.3,"y":174.2},{"p":"c1","k":"r1","x":77.4,"y":177.1},{"p":"c1","k":"r1","x":77.5,"y":152.8},{"p":"c1","k":"r1","x":77.6,"y":113.2},{"p":"c1","k":"r1","x":77.7,"y":74.5},{"p":"c1","k":"r1","x":77.8,"y":46.8},{"p":"c1","k":"r1","x":77.9,"y":31.5},{"p":"c1","k":"r1","x":78.0,"y":24.8},{"p":"c1","k":"r1","x":78.1,"y":22.4},{"p":"c1","k":"r1","x":78.2,"y":21.7},{"p":"c1","k":"r1","x":78.3,"y":21.5},{"p":"c1","k":"r1","x":78.5,"y":21.5},{"p":"c1","k":"r1","x":78.7,"y":21.5},
{"p":"c1","k":"r2","x":77.0,"y":21.6},{"p":"c1","k":"r2","x":77.1,"y":21.9},{"p":"c1","k":"r2","x":77.2,"y":23.1},{"p":"c1","k":"r2","x":77.3,"y":26.2},{"p":"c1","k":"r2","x":77.4,"y":33.4},{"p":"c1","k":"r2","x":77.5,"y":46.6},{"p":"c1","k":"r2","x":77.6,"y":66.0},{"p":"c1","k":"r2","x":77.7,"y":87.9},{"p":"c1","k":"r2","x":77.8,"y":104.7},{"p":"c1","k":"r2","x":77.9,"y":109.2},{"p":"c1","k":"r2","x":78.0,"y":99.2},{"p":"c1","k":"r2","x":78.1,"y":79.3},{"p":"c1","k":"r2","x":78.2,"y":57.7},{"p":"c1","k":"r2","x":78.3,"y":40.5},{"p":"c1","k":"r2","x":78.4,"y":29.9},{"p":"c1","k":"r2","x":78.5,"y":24.6},{"p":"c1","k":"r2","x":78.6,"y":22.5},{"p":"c1","k":"r2","x":78.7,"y":21.8},
{"p":"c2","k":"b","x":76.5,"y":26.3},{"p":"c2","k":"b","x":76.6,"y":27.1},{"p":"c2","k":"b","x":76.7,"y":29.8},{"p":"c2","k":"b","x":76.8,"y":36.6},{"p":"c2","k":"b","x":76.9,"y":51.2},{"p":"c2","k":"b","x":77.0,"y":77.0},{"p":"c2","k":"b","x":77.1,"y":113.4},{"p":"c2","k":"b","x":77.2,"y":153.5},{"p":"c2","k":"b","x":77.3,"y":184.8},{"p":"c2","k":"b","x":77.4,"y":197.5},{"p":"c2","k":"b","x":77.5,"y":189.9},{"p":"c2","k":"b","x":77.6,"y":170.3},{"p":"c2","k":"b","x":77.7,"y":149.2},{"p":"c2","k":"b","x":77.8,"y":131.7},{"p":"c2","k":"b","x":77.9,"y":116.1},{"p":"c2","k":"b","x":78.0,"y":99.2},{"p":"c2","k":"b","x":78.1,"y":80.3},{"p":"c2","k":"b","x":78.2,"y":61.7},{"p":"c2","k":"b","x":78.3,"y":46.3},{"p":"c2","k":"b","x":78.4,"y":36.1},{"p":"c2","k":"b","x":78.5,"y":30.4},{"p":"c2","k":"b","x":78.6,"y":27.6},{"p":"c2","k":"b","x":78.7,"y":26.5},
{"p":"c2","k":"r1","x":76.6,"y":27.1},{"p":"c2","k":"r1","x":76.7,"y":29.8},{"p":"c2","k":"r1","x":76.8,"y":36.6},{"p":"c2","k":"r1","x":76.9,"y":51.2},{"p":"c2","k":"r1","x":77.0,"y":76.8},{"p":"c2","k":"r1","x":77.1,"y":112.6},{"p":"c2","k":"r1","x":77.2,"y":151.0},{"p":"c2","k":"r1","x":77.3,"y":178.6},{"p":"c2","k":"r1","x":77.4,"y":183.8},{"p":"c2","k":"r1","x":77.5,"y":164.1},{"p":"c2","k":"r1","x":77.6,"y":128.3},{"p":"c2","k":"r1","x":77.7,"y":90.2},{"p":"c2","k":"r1","x":77.8,"y":60.1},{"p":"c2","k":"r1","x":77.9,"y":41.3},{"p":"c2","k":"r1","x":78.0,"y":31.8},{"p":"c2","k":"r1","x":78.1,"y":27.9},{"p":"c2","k":"r1","x":78.2,"y":26.5},{"p":"c2","k":"r1","x":78.3,"y":26.0},{"p":"c2","k":"r1","x":78.5,"y":26.0},{"p":"c2","k":"r1","x":78.7,"y":26.0},
{"p":"c2","k":"r2","x":76.6,"y":26.0},{"p":"c2","k":"r2","x":76.8,"y":26.0},{"p":"c2","k":"r2","x":77.0,"y":26.2},{"p":"c2","k":"r2","x":77.1,"y":26.8},{"p":"c2","k":"r2","x":77.2,"y":28.5},{"p":"c2","k":"r2","x":77.3,"y":32.2},{"p":"c2","k":"r2","x":77.4,"y":39.7},{"p":"c2","k":"r2","x":77.5,"y":51.8},{"p":"c2","k":"r2","x":77.6,"y":68.0},{"p":"c2","k":"r2","x":77.7,"y":85.0},{"p":"c2","k":"r2","x":77.8,"y":97.6},{"p":"c2","k":"r2","x":77.9,"y":100.8},{"p":"c2","k":"r2","x":78.0,"y":93.4},{"p":"c2","k":"r2","x":78.1,"y":78.4},{"p":"c2","k":"r2","x":78.2,"y":61.2},{"p":"c2","k":"r2","x":78.3,"y":46.3},{"p":"c2","k":"r2","x":78.4,"y":36.1},{"p":"c2","k":"r2","x":78.5,"y":30.4},{"p":"c2","k":"r2","x":78.6,"y":27.6},{"p":"c2","k":"r2","x":78.7,"y":26.5},
{"p":"c3","k":"b","x":76.5,"y":21.8},{"p":"c3","k":"b","x":76.6,"y":22.4},{"p":"c3","k":"b","x":76.7,"y":24.6},{"p":"c3","k":"b","x":76.8,"y":30.4},{"p":"c3","k":"b","x":76.9,"y":43.6},{"p":"c3","k":"b","x":77.0,"y":67.0},{"p":"c3","k":"b","x":77.1,"y":99.5},{"p":"c3","k":"b","x":77.2,"y":134.2},{"p":"c3","k":"b","x":77.3,"y":160.3},{"p":"c3","k":"b","x":77.4,"y":171.4},{"p":"c3","k":"b","x":77.5,"y":169.1},{"p":"c3","k":"b","x":77.6,"y":158.7},{"p":"c3","k":"b","x":77.7,"y":142.6},{"p":"c3","k":"b","x":77.8,"y":120.5},{"p":"c3","k":"b","x":77.9,"y":93.1},{"p":"c3","k":"b","x":78.0,"y":65.9},{"p":"c3","k":"b","x":78.1,"y":44.7},{"p":"c3","k":"b","x":78.2,"y":31.6},{"p":"c3","k":"b","x":78.3,"y":25.2},{"p":"c3","k":"b","x":78.4,"y":22.6},{"p":"c3","k":"b","x":78.5,"y":21.9},
{"p":"c3","k":"r1","x":76.7,"y":24.6},{"p":"c3","k":"r1","x":76.8,"y":30.4},{"p":"c3","k":"r1","x":76.9,"y":43.5},{"p":"c3","k":"r1","x":77.0,"y":66.5},{"p":"c3","k":"r1","x":77.1,"y":97.8},{"p":"c3","k":"r1","x":77.2,"y":128.7},{"p":"c3","k":"r1","x":77.3,"y":146.2},{"p":"c3","k":"r1","x":77.4,"y":141.6},{"p":"c3","k":"r1","x":77.5,"y":117.3},{"p":"c3","k":"r1","x":77.6,"y":84.7},{"p":"c3","k":"r1","x":77.7,"y":56.0},{"p":"c3","k":"r1","x":77.8,"y":37.2},{"p":"c3","k":"r1","x":77.9,"y":27.4},{"p":"c3","k":"r1","x":78.0,"y":23.4},{"p":"c3","k":"r1","x":78.1,"y":22.1},{"p":"c3","k":"r1","x":78.2,"y":21.7},{"p":"c3","k":"r1","x":78.3,"y":21.6},{"p":"c3","k":"r1","x":78.5,"y":21.6},
{"p":"c3","k":"r2","x":76.7,"y":21.6},{"p":"c3","k":"r2","x":76.8,"y":21.6},{"p":"c3","k":"r2","x":76.9,"y":21.7},{"p":"c3","k":"r2","x":77.0,"y":22.1},{"p":"c3","k":"r2","x":77.1,"y":23.3},{"p":"c3","k":"r2","x":77.2,"y":27.1},{"p":"c3","k":"r2","x":77.3,"y":35.7},{"p":"c3","k":"r2","x":77.4,"y":51.4},{"p":"c3","k":"r2","x":77.5,"y":73.4},{"p":"c3","k":"r2","x":77.6,"y":95.6},{"p":"c3","k":"r2","x":77.7,"y":108.2},{"p":"c3","k":"r2","x":77.8,"y":104.9},{"p":"c3","k":"r2","x":77.9,"y":87.3},{"p":"c3","k":"r2","x":78.0,"y":64.1},{"p":"c3","k":"r2","x":78.1,"y":44.2},{"p":"c3","k":"r2","x":78.2,"y":31.5},{"p":"c3","k":"r2","x":78.3,"y":25.1},{"p":"c3","k":"r2","x":78.4,"y":22.6},{"p":"c3","k":"r2","x":78.5,"y":21.9}
],
"dots": [
{"p":"c1","x":76.625,"y":25.3},{"p":"c1","x":76.75,"y":33.7},{"p":"c1","x":76.875,"y":59},{"p":"c1","x":77.0,"y":77.3},{"p":"c1","x":77.125,"y":113},{"p":"c1","x":77.25,"y":155.3},{"p":"c1","x":77.375,"y":192},{"p":"c1","x":77.5,"y":184},{"p":"c1","x":77.625,"y":152},{"p":"c1","x":77.75,"y":125.7},{"p":"c1","x":77.875,"y":130.7},{"p":"c1","x":78.0,"y":109.7},{"p":"c1","x":78.125,"y":79.7},{"p":"c1","x":78.25,"y":51.3},{"p":"c1","x":78.375,"y":27},{"p":"c1","x":78.5,"y":18.7},{"p":"c1","x":78.625,"y":16.3},
{"p":"c2","x":76.5,"y":21.3},{"p":"c2","x":76.625,"y":31.3},{"p":"c2","x":76.75,"y":43.7},{"p":"c2","x":76.875,"y":59.7},{"p":"c2","x":77.0,"y":88},{"p":"c2","x":77.125,"y":128},{"p":"c2","x":77.25,"y":169.7},{"p":"c2","x":77.375,"y":187},{"p":"c2","x":77.5,"y":195.3},{"p":"c2","x":77.625,"y":169.3},{"p":"c2","x":77.75,"y":126.3},{"p":"c2","x":77.875,"y":119.7},{"p":"c2","x":78.0,"y":108},{"p":"c2","x":78.125,"y":72.3},{"p":"c2","x":78.25,"y":52.3},{"p":"c2","x":78.375,"y":39.7},{"p":"c2","x":78.5,"y":45.3},{"p":"c2","x":78.625,"y":24.7},
{"p":"c3","x":76.5,"y":18.3},{"p":"c3","x":76.625,"y":20.6},{"p":"c3","x":76.75,"y":28.3},{"p":"c3","x":76.875,"y":56.6},{"p":"c3","x":77.0,"y":74},{"p":"c3","x":77.125,"y":106.6},{"p":"c3","x":77.25,"y":150},{"p":"c3","x":77.375,"y":178.3},{"p":"c3","x":77.5,"y":181.6},{"p":"c3","x":77.625,"y":154},{"p":"c3","x":77.75,"y":126.6},{"p":"c3","x":77.875,"y":114},{"p":"c3","x":78.0,"y":71},{"p":"c3","x":78.125,"y":33.3},{"p":"c3","x":78.25,"y":28.3},{"p":"c3","x":78.375,"y":24.3},{"p":"c3","x":78.5,"y":26.6}
]
},
"hconcat": [
 {
  "vconcat": [
   {
    "hconcat": [
     {"width": 33, "height": 276, "view": {"stroke": null}, "data": {"values": []}, "mark": "point", "encoding": {}},
     {
      "width": 371, "height": 276,
      "view": {"stroke": "#333", "strokeWidth": 1.5},
      "data": {"name": "diel"},
      "encoding": {
       "x": {"field": "T", "type": "quantitative", "scale": {"domain": [0, 371], "nice": false, "zero": false},
        "axis": {"values": [0,25,50,75,100,125,150,175,200,225,250,275,300,325,350], "format": "d", "labelExpr": "datum.value % 50 === 0 ? datum.label : ''", "tickSize": {"condition": {"test": "datum.value % 50 === 0", "value": 7}, "value": 4}, "tickWidth": 1.5, "domain": false, "labelFontSize": 17, "labelPadding": 3, "title": "Temperature (°C)", "titleFontSize": 23, "titlePadding": 4, "titleX": 199}}
      },
      "layer": [
       {"mark": {"type": "point", "filled": false, "size": 26, "strokeWidth": 1},
        "encoding": {
         "y": {"field": "e", "type": "quantitative", "scale": {"domain": [-500, 6000], "nice": false, "zero": false},
          "axis": {"values": [0,500,1000,1500,2000,2500,3000,3500,4000,4500,5000,5500,6000], "format": "d", "labelExpr": "datum.value % 1000 === 0 ? datum.label : ''", "tickSize": {"condition": {"test": "datum.value % 1000 === 0", "value": 7}, "value": 4}, "tickWidth": 1.5, "domain": false, "labelFontSize": 17, "labelPadding": 3, "title": "Dielectric constant", "titleFontSize": 23, "titlePadding": 6}},
         "color": {"field": "f", "type": "nominal", "scale": {"domain": ["1kHz", "10kHz", "100kHz"], "range": ["#2a2a2a", "#e0201c", "#2424e0"]},
          "legend": {"orient": "none", "legendX": 55, "legendY": 14, "title": null, "strokeColor": "#777", "padding": 5, "labelFontSize": 17, "labelFont": "Liberation Sans", "labelColor": "#222", "symbolSize": 40, "symbolStrokeWidth": 1.3, "symbolOffset": 13, "rowPadding": 2, "labelOffset": 20}},
         "shape": {"field": "f", "type": "nominal", "scale": {"domain": ["1kHz", "10kHz", "100kHz"], "range": ["square", "circle", "triangle-up"]},
          "legend": {"orient": "none", "legendX": 55, "legendY": 14, "title": null, "strokeColor": "#777", "padding": 5, "labelFontSize": 17, "labelFont": "Liberation Sans", "labelColor": "#222", "symbolSize": 40, "symbolStrokeWidth": 1.3, "symbolOffset": 13, "rowPadding": 2, "labelOffset": 20}}
        }},
       {"mark": {"type": "point", "filled": false, "size": 26, "strokeWidth": 1},
        "encoding": {
         "y": {"field": "l", "type": "quantitative", "scale": {"domain": [0, 0.3], "nice": false, "zero": false},
          "axis": {"orient": "right", "values": [0,0.05,0.1,0.15,0.2,0.25,0.3], "format": ".1f", "labelExpr": "round(datum.value*100) % 10 === 0 ? datum.label : ''", "tickSize": {"condition": {"test": "round(datum.value*100) % 10 === 0", "value": 7}, "value": 4}, "tickWidth": 1.5, "domain": false, "labelFontSize": 17, "labelPadding": 3, "title": "Loss tangent", "titleFontSize": 23, "titlePadding": 1}},
         "color": {"field": "f", "type": "nominal", "scale": {"domain": ["1kHz", "10kHz", "100kHz"], "range": ["#2a2a2a", "#e0201c", "#2424e0"]},
          "legend": {"orient": "none", "legendX": 55, "legendY": 14, "title": null, "strokeColor": "#777", "padding": 5, "labelFontSize": 17, "labelFont": "Liberation Sans", "labelColor": "#222", "symbolSize": 40, "symbolStrokeWidth": 1.3, "symbolOffset": 13, "rowPadding": 2, "labelOffset": 20}},
         "shape": {"field": "f", "type": "nominal", "scale": {"domain": ["1kHz", "10kHz", "100kHz"], "range": ["square", "circle", "triangle-up"]},
          "legend": {"orient": "none", "legendX": 55, "legendY": 14, "title": null, "strokeColor": "#777", "padding": 5, "labelFontSize": 17, "labelFont": "Liberation Sans", "labelColor": "#222", "symbolSize": 40, "symbolStrokeWidth": 1.3, "symbolOffset": 13, "rowPadding": 2, "labelOffset": 20}}
        }},
       {"data": {"values": [{"T": 336, "e": 5340, "t": "(a)"}]},
        "mark": {"type": "text", "fontSize": 30, "fontWeight": "bold", "font": "Liberation Sans", "color": "#111"},
        "encoding": {"y": {"field": "e", "type": "quantitative", "scale": {"domain": [-500, 6000], "nice": false, "zero": false}, "axis": null}, "text": {"field": "t"}}}
      ],
      "resolve": {"scale": {"y": "independent"}}
     }
    ],
    "spacing": 0, "bounds": "flush"
   },
   {
    "hconcat": [
     {
      "width": 146, "height": 384, "view": {"stroke": null},
      "data": {"name": "xrdL"},
      "encoding": {
       "x": {"field": "x", "type": "quantitative", "scale": {"domain": [43.5, 62], "nice": false, "zero": false},
        "axis": {"values": [45,47.5,50,52.5,55,57.5,60], "labelExpr": "datum.value % 5 === 0 ? datum.label : ''", "tickSize": {"condition": {"test": "datum.value % 5 === 0", "value": 7}, "value": 4}, "tickWidth": 1.5, "domainWidth": 2, "domainColor": "#111", "labelFontSize": 17, "labelPadding": 4, "labelColor": "#333", "title": null}},
       "y": {"field": "y", "type": "quantitative", "scale": {"domain": [0, 384], "nice": false, "zero": false},
        "axis": {"ticks": false, "labels": false, "domainWidth": 2, "domainColor": "#111", "title": "Intensity (a.u.)", "titleFontSize": 19, "titlePadding": 8, "titleColor": "#333"}}
      },
      "layer": [
       {"transform": [{"filter": "datum.s === '200'"}], "mark": {"type": "line", "color": "#ff1cff", "strokeWidth": 1.3}},
       {"transform": [{"filter": "datum.s === '150'"}], "mark": {"type": "line", "color": "#2b7a6f", "strokeWidth": 1.3}},
       {"transform": [{"filter": "datum.s === '100'"}], "mark": {"type": "line", "color": "#1818ff", "strokeWidth": 1.3}},
       {"transform": [{"filter": "datum.s === '75'"}], "mark": {"type": "line", "color": "#ff1010", "strokeWidth": 1.3}},
       {"transform": [{"filter": "datum.s === 'RT'"}], "mark": {"type": "line", "color": "#111111", "strokeWidth": 1.3}},
       {"data": {"values": [{"x": 43.5, "x2": 63.5, "y": 384, "y2": 384}, {"x": 62, "x2": 62, "y": -10, "y2": 8}]},
        "mark": {"type": "rule", "strokeWidth": 2, "color": "#111"}, "encoding": {"x2": {"field": "x2"}, "y2": {"field": "y2"}}},
       {"data": {"values": [{"x": 47.4, "y": 211, "t": "200°C"}, {"x": 47.7, "y": 161, "t": "150°C"}, {"x": 47.7, "y": 118, "t": "100°C"}, {"x": 47.0, "y": 80, "t": "75°C"}, {"x": 46.5, "y": 41, "t": "RT"}]},
        "mark": {"type": "text", "font": "Liberation Serif", "fontSize": 18, "color": "#333"}, "encoding": {"text": {"field": "t"}}},
       {"data": {"values": [{"x": 53.9, "y": 268, "t": "200"}, {"x": 61.0, "y": 199, "t": "210"}]},
        "mark": {"type": "text", "font": "Liberation Serif", "fontSize": 19, "color": "#333", "align": "right"}, "encoding": {"text": {"field": "t"}}},
       {"data": {"values": [{"x": 53.9, "y": 268, "t": "p"}, {"x": 61.0, "y": 199, "t": "p"}]},
        "mark": {"type": "text", "font": "Liberation Serif", "fontSize": 15, "color": "#333", "align": "left", "dx": 1, "dy": 3}, "encoding": {"text": {"field": "t"}}},
       {"data": {"values": [{"x": 50.8, "y": 198, "t": "*"}]},
        "mark": {"type": "text", "font": "Liberation Serif", "fontSize": 20, "color": "#333", "dy": 3}, "encoding": {"text": {"field": "t"}}},
       {"data": {"values": [{"x": 49.2, "y": 356, "t": "(b)"}]},
        "mark": {"type": "text", "font": "Liberation Sans", "fontSize": 30, "fontWeight": "bold", "color": "#111"}, "encoding": {"text": {"field": "t"}}}
      ]
     },
     {
      "width": 256, "height": 384, "view": {"stroke": null},
      "data": {"name": "xrdR"},
      "encoding": {
       "x": {"field": "x", "type": "quantitative", "scale": {"domain": [68.1, 100.6], "nice": false, "zero": false},
        "axis": {"values": [70,72.5,75,77.5,80,82.5,85,87.5,90,92.5,95,97.5,100], "labelExpr": "datum.value % 5 === 0 ? datum.label : ''", "tickSize": {"condition": {"test": "datum.value % 5 === 0", "value": 7}, "value": 4}, "tickWidth": 1.5, "domainWidth": 2, "domainColor": "#111", "labelFontSize": 17, "labelPadding": 4, "labelColor": "#333", "title": "2 θ (°)", "titleFont": "Liberation Serif", "titleFontSize": 20, "titleColor": "#333", "titlePadding": 2, "titleX": 59}},
       "y": {"field": "y", "type": "quantitative", "scale": {"domain": [0, 384], "nice": false, "zero": false}, "axis": null}
      },
      "layer": [
       {"transform": [{"filter": "datum.s === '200'"}], "mark": {"type": "line", "color": "#ff1cff", "strokeWidth": 1.3}},
       {"transform": [{"filter": "datum.s === '150'"}], "mark": {"type": "line", "color": "#2b7a6f", "strokeWidth": 1.3}},
       {"transform": [{"filter": "datum.s === '100'"}], "mark": {"type": "line", "color": "#1818ff", "strokeWidth": 1.3}},
       {"transform": [{"filter": "datum.s === '75'"}], "mark": {"type": "line", "color": "#ff1010", "strokeWidth": 1.3}},
       {"transform": [{"filter": "datum.s === 'RT'"}], "mark": {"type": "line", "color": "#111111", "strokeWidth": 1.3}},
       {"data": {"values": [{"x": 68.1, "x2": 100.6, "y": 384, "y2": 384}, {"x": 100.6, "x2": 100.6, "y": 0, "y2": 384}, {"x": 68.1, "x2": 68.1, "y": -10, "y2": 8}]},
        "mark": {"type": "rule", "strokeWidth": 2, "color": "#111"}, "encoding": {"x2": {"field": "x2"}, "y2": {"field": "y2"}}},
       {"data": {"values": [{"x": 79.37, "y": 265, "t": "220"}, {"x": 84.1, "y": 198, "t": "300"}, {"x": 90.34, "y": 240, "t": "310"}, {"x": 96.05, "y": 355, "t": "311"}]},
        "mark": {"type": "text", "font": "Liberation Serif", "fontSize": 19, "color": "#333", "align": "right"}, "encoding": {"text": {"field": "t"}}},
       {"data": {"values": [{"x": 79.37, "y": 265, "t": "p"}, {"x": 84.1, "y": 198, "t": "p"}, {"x": 90.34, "y": 240, "t": "p"}, {"x": 96.05, "y": 355, "t": "p"}]},
        "mark": {"type": "text", "font": "Liberation Serif", "fontSize": 15, "color": "#333", "align": "left", "dx": 1, "dy": 3}, "encoding": {"text": {"field": "t"}}},
       {"data": {"values": [{"x": 73.3, "y": 200, "t": "*"}, {"x": 89.37, "y": 223, "t": "*"}, {"x": 93.93, "y": 296, "t": "*"}, {"x": 88.1, "y": 340, "t": "*"}]},
        "mark": {"type": "text", "font": "Liberation Serif", "fontSize": 20, "color": "#333", "dy": 3}, "encoding": {"text": {"field": "t"}}},
       {"data": {"values": [{"x": 89.58, "y": 340, "t": "Ag"}]},
        "mark": {"type": "text", "font": "Liberation Sans", "fontSize": 19, "color": "#333", "align": "left"}, "encoding": {"text": {"field": "t"}}}
      ]
     }
    ],
    "spacing": 11, "bounds": "flush"
   }
  ],
  "spacing": 339, "bounds": "flush"
 },
 {
  "vconcat": [
   {"width": 308, "height": 46, "view": {"stroke": null}, "data": {"values": []}, "mark": "point", "encoding": {}},
   {
    "width": 308, "height": 223,
    "view": {"stroke": "#111", "strokeWidth": 2},
    "encoding": {
     "x": {"field": "x", "type": "quantitative", "scale": {"domain": [76.5, 78.7], "nice": false, "zero": false},
      "axis": {"values": [76.75,77,77.25,77.5,77.75,78,78.25,78.5], "labels": false, "tickSize": -6, "tickWidth": 2, "tickColor": "#111", "domain": false, "title": null}},
     "y": {"field": "y", "type": "quantitative", "scale": {"domain": [-1, 222], "nice": false, "zero": false},
      "axis": {"values": [16.5,33.7,50.9,68.1,85.3,102.5,119.7,136.9,154.1,171.3,188.5,205.7], "labels": false, "tickSize": -6, "tickWidth": 2, "tickColor": "#111", "domain": false, "title": null}}
    },
    "layer": [
     {"data": {"name": "fit"}, "transform": [{"filter": "datum.p === 'c1' && datum.k !== 'b'"}], "mark": {"type": "line", "color": "#ff0000", "strokeWidth": 1.3, "interpolate": "monotone"}, "encoding": {"detail": {"field": "k"}}},
     {"data": {"name": "fit"}, "transform": [{"filter": "datum.p === 'c1' && datum.k === 'b'"}], "mark": {"type": "line", "color": "#1414ff", "strokeWidth": 3.5, "interpolate": "monotone"}},
     {"data": {"name": "dots"}, "transform": [{"filter": "datum.p === 'c1'"}], "mark": {"type": "circle", "color": "#000", "opacity": 1, "size": 130}},
     {"data": {"values": [{"x": 77.4, "y": 173, "y2": 228}, {"x": 77.886, "y": 105, "y2": 228}]}, "mark": {"type": "rule", "color": "#000", "strokeWidth": 2}, "encoding": {"y2": {"field": "y2"}}},
     {"data": {"values": [{"x": 77.4, "y": 231}, {"x": 77.886, "y": 231}]}, "mark": {"type": "point", "shape": "triangle-up", "filled": true, "color": "#000", "opacity": 1, "size": 210}},
     {"data": {"values": [{"x": 77.193, "y": 261, "t": "Peak1"}, {"x": 77.936, "y": 261, "t": "Peak2"}]}, "mark": {"type": "text", "font": "Liberation Serif", "fontWeight": "bold", "fontSize": 26, "color": "#111"}, "encoding": {"text": {"field": "t"}}},
     {"data": {"values": [{"x": 76.85, "y": 173, "t": "(c)"}]}, "mark": {"type": "text", "font": "Liberation Sans", "fontWeight": "bold", "fontSize": 33, "color": "#111"}, "encoding": {"text": {"field": "t"}}},
     {"data": {"values": [{"x": 78.27, "y": 185, "t": "RT"}]}, "mark": {"type": "text", "font": "Liberation Sans", "fontWeight": "bold", "fontSize": 26, "color": "#111"}, "encoding": {"text": {"field": "t"}}}
    ]
   },
   {
    "width": 308, "height": 225,
    "view": {"stroke": "#111", "strokeWidth": 2},
    "encoding": {
     "x": {"field": "x", "type": "quantitative", "scale": {"domain": [76.5, 78.7], "nice": false, "zero": false},
      "axis": {"values": [76.75,77,77.25,77.5,77.75,78,78.25,78.5], "labels": false, "tickSize": -6, "tickWidth": 2, "tickColor": "#111", "domain": false, "title": null}},
     "y": {"field": "y", "type": "quantitative", "scale": {"domain": [-1, 224], "nice": false, "zero": false},
      "axis": {"values": [19,36.2,53.4,70.6,87.8,105,122.2,139.4,156.6,173.8,191,208.2], "labels": false, "tickSize": -6, "tickWidth": 2, "tickColor": "#111", "domain": false, "title": "Intensity (a.u)", "titleFont": "Liberation Sans", "titleFontWeight": "bold", "titleFontSize": 25, "titleColor": "#111", "titlePadding": 7}}
    },
    "layer": [
     {"data": {"name": "fit"}, "transform": [{"filter": "datum.p === 'c2' && datum.k !== 'b'"}], "mark": {"type": "line", "color": "#ff0000", "strokeWidth": 1.3, "interpolate": "monotone"}, "encoding": {"detail": {"field": "k"}}},
     {"data": {"name": "fit"}, "transform": [{"filter": "datum.p === 'c2' && datum.k === 'b'"}], "mark": {"type": "line", "color": "#1414ff", "strokeWidth": 3.5, "interpolate": "monotone"}},
     {"data": {"name": "dots"}, "transform": [{"filter": "datum.p === 'c2'"}], "mark": {"type": "circle", "color": "#000", "opacity": 1, "size": 130}},
     {"data": {"values": [{"x": 78.31, "y": 168, "t": "75ᴼC"}]}, "mark": {"type": "text", "font": "Liberation Sans", "fontWeight": "bold", "fontSize": 26, "color": "#111"}, "encoding": {"text": {"field": "t"}}}
    ]
   },
   {
    "width": 308, "height": 204,
    "view": {"stroke": "#111", "strokeWidth": 2},
    "encoding": {
     "x": {"field": "x", "type": "quantitative", "scale": {"domain": [76.5, 78.7], "nice": false, "zero": false},
      "axis": {"values": [76.5,77,77.5,78,78.5], "format": ".1f", "ticks": false, "domain": false, "labelFontSize": 25, "labelFontWeight": "bold", "labelColor": "#222", "labelPadding": 8, "title": "2θ  (º)", "titleFont": "Liberation Serif", "titleFontWeight": "bold", "titleFontSize": 24, "titleColor": "#222", "titlePadding": 6, "titleX": 114}},
     "y": {"field": "y", "type": "quantitative", "scale": {"domain": [0, 204], "nice": false, "zero": false},
      "axis": {"values": [15.2,31,46.8,62.6,78.4,94.2,110,125.8,141.6,157.4,173.2,189], "labels": false, "tickSize": -6, "tickWidth": 2, "tickColor": "#111", "domain": false, "title": null}}
    },
    "layer": [
     {"data": {"name": "fit"}, "transform": [{"filter": "datum.p === 'c3' && datum.k !== 'b'"}], "mark": {"type": "line", "color": "#ff0000", "strokeWidth": 1.3, "interpolate": "monotone"}, "encoding": {"detail": {"field": "k"}}},
     {"data": {"name": "fit"}, "transform": [{"filter": "datum.p === 'c3' && datum.k === 'b'"}], "mark": {"type": "line", "color": "#1414ff", "strokeWidth": 3.5, "interpolate": "monotone"}},
     {"data": {"name": "dots"}, "transform": [{"filter": "datum.p === 'c3'"}], "mark": {"type": "circle", "color": "#000", "opacity": 1, "size": 130}},
     {"data": {"values": [{"x": 78.36, "y": 151, "t": "100ᴼC"}]}, "mark": {"type": "text", "font": "Liberation Sans", "fontWeight": "bold", "fontSize": 26, "color": "#111"}, "encoding": {"text": {"field": "t"}}}
    ]
   }
  ],
  "spacing": 0, "bounds": "flush"
 }
],
"spacing": 507, "bounds": "flush"
}
